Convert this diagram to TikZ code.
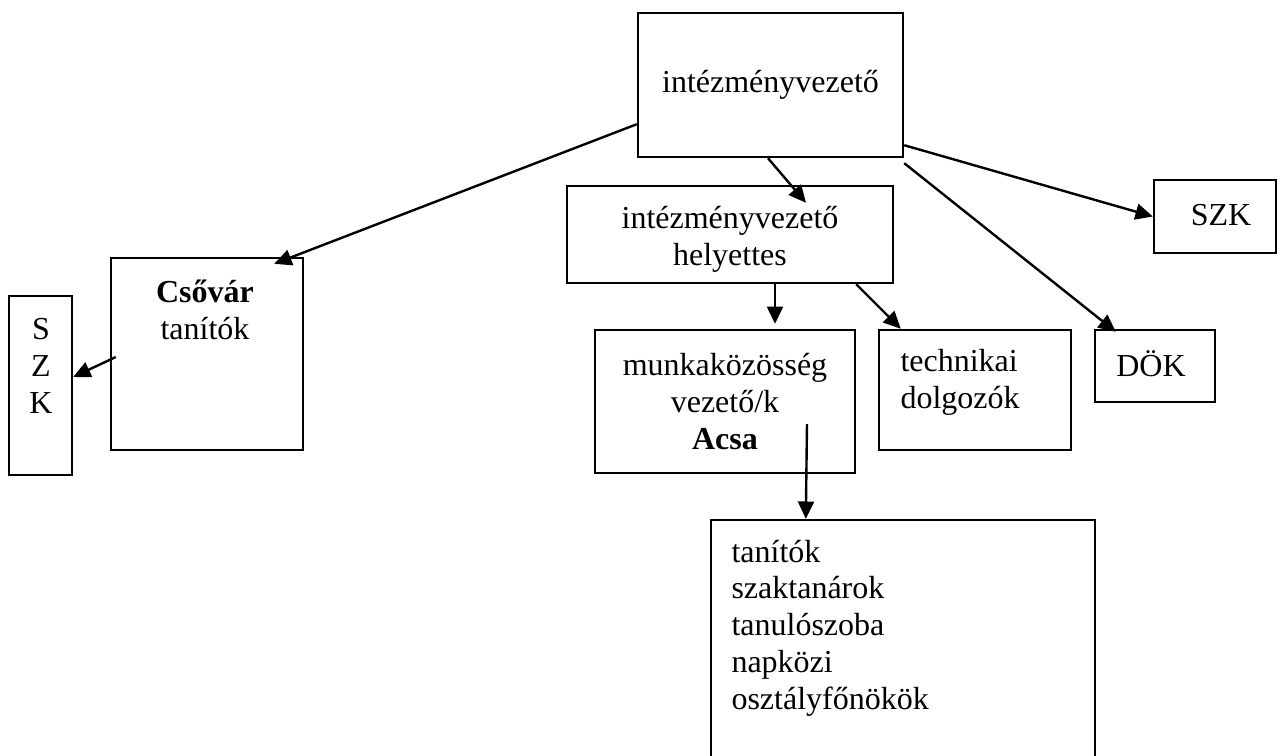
\documentclass[tikz,border=0pt]{standalone}
\usepackage{fontspec}
\setmainfont{Liberation Serif}
\usetikzlibrary{positioning, calc, arrows.meta}

\begin{document}
\begin{tikzpicture}[x=0.375pt, y=-0.375pt]
        \tikzset{every node/.style={font=\fontsize{12}{13.8}\selectfont}}
        % boxes and connectors
        \tikzset{box/.style={draw, rectangle, line width=0.9pt, inner sep=2pt, align=center},
                 txt/.style={inner sep=0pt},
                 conn/.style={line width=0.9pt, -{Triangle[length=6.5pt,width=6pt]}}}
        \useasboundingbox (0,0) rectangle (1277,755);

        \node[box, minimum width=99.4pt, minimum height=54pt] (vezeto) at (770.5,85) {intézményvezető};
        \node[box, minimum width=122.25pt, minimum height=36.4pt] (helyettes) at (730,234.5) {};
        \node[box, minimum width=45.75pt, minimum height=27.4pt] (szk_r) at (1215,216.5) {\hspace{4.5pt}\raisebox{1.5pt}{SZK}};
        \node[box, minimum width=72pt, minimum height=72pt] (csovar) at (207,354) {};
        \node[box, minimum width=23.6pt, minimum height=67.1pt] (szk_l) at (40.5,385.5) {};
        \node[box, minimum width=97.5pt, minimum height=53.6pt] (mk) at (725,401.5) {munkaközösség\\vezető/k\\\textbf{Acsa}};
        \node[box, minimum width=72pt, minimum height=45pt] (tech) at (975,390) {};
        \node[box, minimum width=45pt, minimum height=27pt] (dok) at (1155,366) {\raisebox{2.2pt}{DÖK}\hspace{3pt}};
        \node[box, minimum width=144pt, minimum height=112.5pt] (tanitok) at (903,670) {};

        % texts placed apart from their boxes
        \node[txt, align=center] (helyettes_t) at (730,239.5) {intézményvezető\\helyettes};
        \node[txt, align=center] (csovar_t) at (205,309.5) {\textbf{Csővár}\\tanítók};
        \node[txt, align=center] (szk_l_t) at (41,366) {S\\Z\\K};
        \node[txt, align=left, anchor=west] (tech_t) at (900,382.5) {technikai\\dolgozók};
        \node[txt, align=left, anchor=west] (tanitok_t) at (731,628) {tanítók\\szaktanárok\\tanulószoba\\napközi\\osztályfőnökök};

        \draw[conn] ($(vezeto.south west)+(0,-34)$) -- ($(csovar.north east)+(-30,7)$);
        \draw[conn] ($(vezeto.south)+(-2.5,0)$) -- ($(helyettes.north)+(76,18)$);
        \draw[conn] ($(vezeto.south east)+(0,-13)$) -- (szk_r.west);
        \draw[conn] ($(vezeto.south east)+(0,5)$) -- ($(dok.north west)+(22,3)$);
        \draw[conn] ($(helyettes.south)+(45,0)$) -- ($(mk.north)+(50,-5)$);
        \draw[conn] ($(helyettes.south east)+(-38,0)$) -- ($(tech.north west)+(23,0)$);
        \draw[conn] ($(csovar.west)+(6,3)$) -- ($(szk_l.east)+(0,-8.5)$);
        \draw[conn] ($(mk.south)+(82,-50)$) -- ($(tanitok.north west)+(96,0)$);
    \end{tikzpicture}
\end{document}
